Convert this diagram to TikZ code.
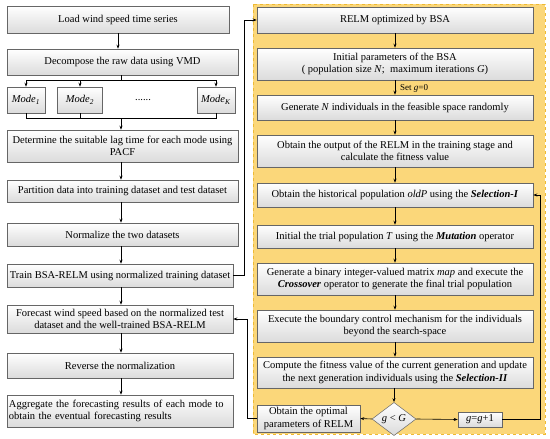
\documentclass[tikz,border=0pt]{standalone}
\usepackage{fontspec}
\setmainfont{Liberation Serif}
\usetikzlibrary{arrows.meta,shapes.geometric}
\definecolor{bgyellow}{RGB}{251,215,122}
\definecolor{bgborder}{RGB}{238,186,52}
\begin{document}
\begin{tikzpicture}[x=1pt,y=-1pt,
  font=\fontsize{10.5}{12.5}\selectfont,
  box/.style={draw=gray!80!black, line width=0.5pt, top color=white, bottom color=gray!28, inner sep=1pt, align=center},
  arr/.style={-{Stealth[length=4pt,width=3pt]}, line width=0.6pt},
  ln/.style={line width=0.6pt}]
\useasboundingbox (0,0) rectangle (550,439);
\fill[white] (0,0) rectangle (550,439);
\draw[bgborder, fill=bgyellow, dashed, line width=0.8pt] (253,4) rectangle (545,434);

% left column
\node[box, minimum width=222, minimum height=27] (load) at (118,19.5) {Load wind speed time series};
\node[box, minimum width=231, minimum height=26] (decomp) at (122.5,62) {Decompose the raw data using VMD};
\node[box, minimum width=38, minimum height=26] (mode1) at (26,100) {\textit{Mode}\textsubscript{\textit{1}}};
\node[box, minimum width=45, minimum height=26] (mode2) at (80,100) {\textit{Mode}\textsubscript{\textit{2}}};
\node (dots) at (143,100) {......};
\node[box, minimum width=38, minimum height=26] (modek) at (216,100) {\textit{Mode}\textsubscript{\textit{K}}};
\node[box, minimum width=231, minimum height=32] (determ) at (122.5,146) {Determine the suitable lag time for each mode using\\PACF};
\node[box, minimum width=231, minimum height=22] (part) at (122.5,191) {Partition data into training dataset and test dataset};
\node[box, minimum width=231, minimum height=23] (norm) at (122.5,234.5) {Normalize the two datasets};
\node[box, minimum width=226, minimum height=23] (train) at (120,275.5) {Train BSA-RELM using normalized training dataset};
\node[box, minimum width=226, minimum height=28] (fore) at (120,319) {Forecast wind speed based on the normalized test\\dataset and the well-trained BSA-RELM};
\node[box, minimum width=226, minimum height=25] (rev) at (120,365.5) {Reverse the normalization};
\node[box, text width=222, inner xsep=2pt, align=left, minimum height=32] (aggr) at (120,411) {Aggregate the forecasting results of each mode to\\obtain the eventual forecasting results};

\coordinate (s) at (121,80);
\coordinate (j) at (121,118);
\draw[arr] (load.south) -- (load.south |- decomp.north);
\draw[ln] (decomp.south -| s) -- (s);
\draw[ln] (mode1.north |- s) -- (modek.north |- s);
\draw[arr] (mode1.north |- s) -- (mode1.north);
\draw[arr] (mode2.north |- s) -- (mode2.north);
\draw[arr] (modek.north |- s) -- (modek.north);
\draw[ln] (mode1.south) -- (mode1.south |- j) -- (modek.south |- j) -- (modek.south);
\draw[ln] (mode2.south) -- (mode2.south |- j);
\draw[arr] (j) -- (j |- determ.north);
\draw[arr] (determ.south -| j) -- (part.north -| j);
\draw[arr] (part.south -| j) -- (norm.north -| j);
\draw[arr] (norm.south -| j) -- (train.north -| j);
\draw[arr] (train.south -| j) -- (fore.north -| j);
\draw[arr] (fore.south -| j) -- (rev.north -| j);
\draw[arr] (rev.south -| j) -- (aggr.north -| j);

% right column
\node[box, minimum width=276, minimum height=26] (relm) at (395,20) {RELM optimized by BSA};
\node[box, minimum width=276, minimum height=32] (init) at (395,64) {Initial parameters of the BSA\\( population size \textit{N};\ \ maximum iterations \textit{G})};
\node[box, minimum width=276, minimum height=25] (gen) at (395,107.5) {Generate \textit{N} individuals in the feasible space randomly};
\node[box, minimum width=276, minimum height=32] (out) at (395,151) {Obtain the output of the RELM in the training stage and\\calculate the fitness value};
\node[box, minimum width=276, minimum height=24] (hist) at (395,195) {Obtain the historical population \textit{oldP} using the \textbf{\textit{Selection-I}}};
\node[box, minimum width=276, minimum height=23] (trial) at (395,236.5) {Initial the trial population \textit{T} using the \textbf{\textit{Mutation}} operator};
\node[box, minimum width=276, minimum height=32] (binary) at (395,279) {Generate a binary integer-valued matrix \textit{map} and execute the\\\textbf{\textit{Crossover}} operator to generate the final trial population};
\node[box, minimum width=276, minimum height=32] (bound) at (395,326) {Execute the boundary control mechanism for the individuals\\beyond the search-space};
\node[box, minimum width=276, minimum height=31] (comp) at (395,372.5) {Compute the fitness value of the current generation and update\\the next generation individuals using the \textbf{\textit{Selection-II}}};
\node[box, minimum width=103, minimum height=27] (opt) at (308.5,418.5) {Obtain the optimal\\parameters of RELM};
\node[box, diamond, inner sep=0pt, minimum width=44, minimum height=29] (dia) at (394,419) {\textit{g} \textless{} \textit{G}};
\node[box, minimum width=44, minimum height=15] (gg) at (480,419.5) {\textit{g}=\textit{g}+1};
\node[anchor=west, font=\fontsize{9}{10}\selectfont, inner sep=1pt] (setg) at (399,88) {Set \textit{g}=0};

\draw[arr] (relm) -- (init);
\draw[arr] (init) -- (gen);
\draw[arr] (gen) -- (out);
\draw[arr] (out) -- (hist);
\draw[arr] (hist) -- (trial);
\draw[arr] (trial) -- (binary);
\draw[arr] (binary) -- (bound);
\draw[arr] (bound) -- (comp);
\draw[arr] (comp.south -| dia.north) -- (dia.north);
\draw[arr] (dia.west) -- (opt.east);
\draw[arr] (dia.east) -- (gg.west);

\coordinate (lp) at (540,0);
\coordinate (lx) at (244,0);
\coordinate (lx2) at (247,0);
\draw[arr] (gg.east) -- (gg.east -| lp) -- (hist.east -| lp) -- (hist.east);
\draw[arr] (train.east) -- (train.east -| lx) -- (relm.west -| lx) -- (relm.west);
\draw[arr] (opt.west) -- (opt.west -| lx2) -- (fore.east -| lx2) -- (fore.east);
\end{tikzpicture}
\end{document}
